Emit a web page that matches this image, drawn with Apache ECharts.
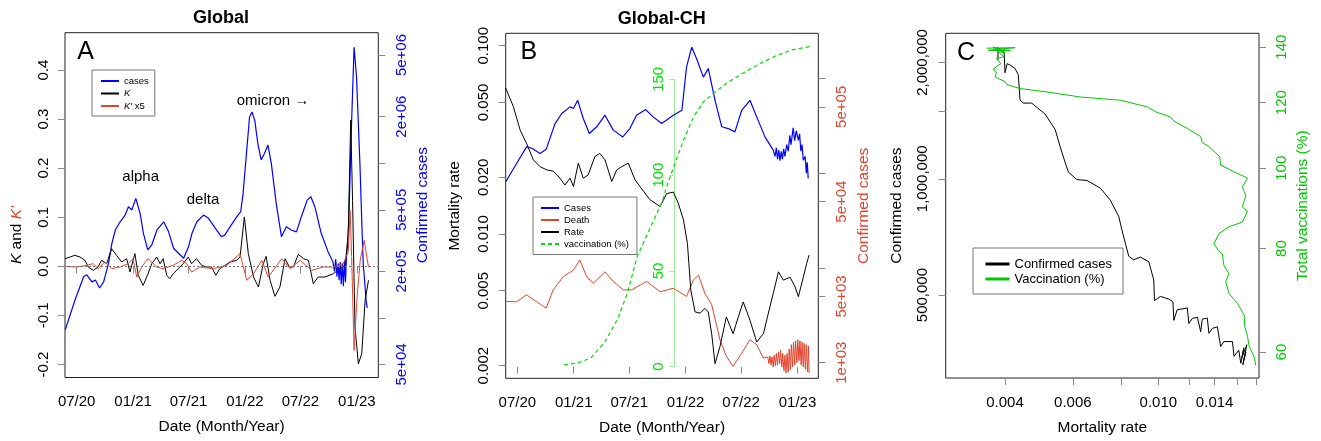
<!DOCTYPE html>
<html><head><meta charset="utf-8">
<script src="https://cdn.jsdelivr.net/npm/echarts@6/dist/echarts.min.js"></script>
<style>html,body{margin:0;padding:0;background:#fff}#c{width:1321px;height:441px}</style>
</head><body><div id="c"></div>
<script>
const FONT = "'Liberation Sans', Arial, Helvetica, sans-serif";

// ---------- shared date ticks ----------
const dateTicks = ['2020-07-01','2021-01-01','2021-07-01','2022-01-01','2022-07-01','2023-01-01'];

// ---------- Panel A (Global) ----------
const casesA = [['2020-05-25',84000],['2020-06-26',131000],['2020-07-24',185000],['2020-08-03',190000],['2020-08-20',171000],['2020-08-31',176000],['2020-09-14',156000],['2020-09-27',171000],['2020-10-13',225000],['2020-10-24',303000],['2020-11-04',370000],['2020-11-20',418000],['2020-12-06',462000],['2020-12-17',523000],['2020-12-28',498000],['2021-01-10',592000],['2021-01-24',473000],['2021-02-04',351000],['2021-02-18',275000],['2021-03-03',296000],['2021-03-20',370000],['2021-04-11',418000],['2021-04-27',360000],['2021-05-13',282000],['2021-06-04',255000],['2021-06-15',243000],['2021-07-01',288000],['2021-07-12',351000],['2021-07-28',418000],['2021-08-19',462000],['2021-09-04',440000],['2021-09-26',380000],['2021-10-16',335000],['2021-10-27',343000],['2021-11-17',398000],['2021-12-09',462000],['2021-12-18',485000],['2021-12-26',637000],['2022-01-05',1100000],['2022-01-16',1990000],['2022-01-24',2140000],['2022-02-02',1890000],['2022-02-12',1340000],['2022-02-23',1050000],['2022-03-06',1160000],['2022-03-17',1310000],['2022-03-28',997000],['2022-04-13',550000],['2022-04-30',335000],['2022-05-16',388000],['2022-06-01',370000],['2022-06-18',360000],['2022-07-04',451000],['2022-07-23',577000],['2022-08-04',607000],['2022-08-17',523000],['2022-09-07',351000],['2022-09-29',268000],['2022-10-15',231000],['2022-10-20',200000],['2022-10-24',240000],['2022-10-28',185000],['2022-11-01',225000],['2022-11-04',175000],['2022-11-08',230000],['2022-11-11',165000],['2022-11-15',225000],['2022-11-18',160000],['2022-11-22',235000],['2022-11-25',170000],['2022-11-28',250000],['2022-12-02',300000],['2022-12-06',451000],['2022-12-14',1630000],['2022-12-23',5620000],['2022-12-31',3600000],['2023-01-11',1000000],['2023-01-18',370000],['2023-01-22',220000],['2023-01-27',168000],['2023-01-31',130000],['2023-02-04',116000]];
const kA = [['2020-05-24',0.0156],['2020-06-09',0.019],['2020-06-25',0.0224],['2020-07-12',0.019],['2020-07-28',0.0122],['2020-08-08',-0.0014],['2020-08-24',-0.0082],['2020-09-09',-0.0014],['2020-09-20',0.0122],['2020-10-07',0.0054],['2020-10-23',0.036],['2020-11-08',0.0224],['2020-11-25',0.0088],['2020-12-11',0.0156],['2020-12-22',-0.0116],['2021-01-07',0.0259],['2021-01-18',-0.0184],['2021-02-03',-0.0388],['2021-02-19',-0.015],['2021-03-03',0.0054],['2021-03-19',0.019],['2021-03-30',0.0054],['2021-04-09',0.0156],['2021-04-21',-0.0184],['2021-05-01',-0.0252],['2021-05-12',-0.015],['2021-05-28',-0.0048],['2021-06-14',0.0054],['2021-06-30',0.019],['2021-07-11',0.0054],['2021-07-27',0.0156],['2021-08-13',0.002],['2021-08-29',-0.0014],['2021-09-14',-0.0014],['2021-09-28',-0.0184],['2021-10-11',-0.0048],['2021-10-28',0.002],['2021-11-13',0.0088],['2021-12-05',0.0122],['2021-12-16',0.019],['2021-12-30',0.1007],['2022-01-12',0.0259],['2022-01-29',-0.0218],['2022-02-14',-0.0422],['2022-03-02',0.0054],['2022-03-11',0.0204],['2022-03-24',-0.0286],['2022-04-09',-0.0612],['2022-04-25',-0.0422],['2022-05-12',0.0156],['2022-05-26',-0.0014],['2022-06-08',-0.0014],['2022-06-24',0.0245],['2022-07-11',0.0156],['2022-07-27',0.0122],['2022-08-12',-0.0354],['2022-08-28',-0.0218],['2022-09-19',-0.0218],['2022-10-16',-0.015],['2022-11-07',-0.0048],['2022-11-24',0.002],['2022-12-04',0.0667],['2022-12-12',0.298],['2022-12-18',0.1347],['2022-12-26',-0.1238],['2023-01-06',-0.1986],['2023-01-17',-0.1782],['2023-01-28',-0.0694],['2023-02-08',-0.0286]];
const kpA = [['2020-05-24',0],['2020-07-01',-0.0014],['2020-08-02',0.002],['2020-08-24',0.0054],['2020-09-09',-0.0048],['2020-10-01',0.0088],['2020-10-23',-0.0048],['2020-11-19',-0.0014],['2020-12-16',0.0054],['2021-01-01',0.0156],['2021-01-13',-0.0218],['2021-01-29',-0.0014],['2021-02-19',0.0156],['2021-03-19',-0.0014],['2021-04-09',-0.0048],['2021-05-12',0.002],['2021-06-09',0.0122],['2021-06-25',0.0054],['2021-07-11',-0.0116],['2021-08-07',-0.0014],['2021-09-20',-0.0048],['2021-11-03',0.002],['2021-12-16',0.0259],['2022-01-07',-0.0286],['2022-01-29',-0.015],['2022-02-25',0.0122],['2022-03-18',-0.0218],['2022-05-01',0.0156],['2022-05-28',-0.0048],['2022-06-30',0.0122],['2022-08-07',-0.0082],['2022-09-13',-0.0014],['2022-10-16',-0.0014],['2022-11-18',0.0054],['2022-12-04',0.03],['2022-12-10',0.1143],['2022-12-15',0.02],['2022-12-23',-0.1714],['2023-01-01',-0.0694],['2023-01-12',0.0122],['2023-01-25',0.0531],['2023-02-08',-0.0014]];
const kTicksA = [-0.2,-0.1,0,0.1,0.2,0.3,0.4];
const casesTicksA = [5e4,1e5,2e5,5e5,1e6,2e6,5e6];
const casesLabelsA = [5e4,2e5,5e5,2e6,5e6];

// ---------- Panel B (Global-CH) ----------
const casesB = [['2020-05-24',81000],['2020-06-29',127000],['2020-07-31',189000],['2020-08-17',183000],['2020-09-13',161000],['2020-10-03',178000],['2020-11-01',333000],['2020-11-23',425000],['2020-12-20',500000],['2020-12-31',480000],['2021-01-14',586000],['2021-02-01',377000],['2021-02-21',262000],['2021-03-17',308000],['2021-04-13',408000],['2021-05-10',284000],['2021-06-10',241000],['2021-07-03',295000],['2021-07-25',408000],['2021-08-24',468000],['2021-09-17',392000],['2021-10-15',333000],['2021-11-22',408000],['2021-12-20',460000],['2022-01-04',1310000],['2022-01-21',2130000],['2022-02-06',1610000],['2022-02-28',1030000],['2022-03-16',1270000],['2022-04-07',586000],['2022-04-29',308000],['2022-05-20',295000],['2022-06-11',272000],['2022-07-03',460000],['2022-07-30',586000],['2022-08-21',392000],['2022-09-17',241000],['2022-10-14',175000],['2022-10-20',150000],['2022-10-24',185000],['2022-10-28',140000],['2022-11-01',175000],['2022-11-05',135000],['2022-11-09',170000],['2022-11-13',140000],['2022-11-17',180000],['2022-11-21',150000],['2022-11-27',200000],['2022-12-02',170000],['2022-12-07',250000],['2022-12-11',200000],['2022-12-18',300000],['2022-12-23',220000],['2022-12-28',280000],['2023-01-04',222000],['2023-01-08',260000],['2023-01-12',170000],['2023-01-16',200000],['2023-01-20',137000],['2023-01-26',150000],['2023-01-30',100000],['2023-02-02',130000],['2023-02-05',88000]];
const deathB = [['2020-05-24',4420],['2020-06-29',4400],['2020-07-31',5200],['2020-09-02',4400],['2020-10-03',3770],['2020-10-26',5860],['2020-11-28',8100],['2020-12-31',9500],['2021-01-21',12100],['2021-02-12',8100],['2021-03-06',6900],['2021-04-13',9100],['2021-05-10',7200],['2021-06-12',5860],['2021-07-09',5860],['2021-08-27',7200],['2021-10-10',5600],['2021-11-22',6100],['2022-01-04',5000],['2022-01-27',7500],['2022-02-12',8400],['2022-03-05',5400],['2022-03-27',4100],['2022-04-23',1750],['2022-05-14',1170],['2022-06-05',915],['2022-07-03',1260],['2022-07-30',1750],['2022-08-21',1550],['2022-09-12',1120],['2022-09-26',1150],['2022-09-30',980],['2022-10-03',1180],['2022-10-07',950],['2022-10-10',1150],['2022-10-14',900],['2022-10-17',1200],['2022-10-21',930],['2022-10-24',1250],['2022-10-28',950],['2022-10-31',1300],['2022-11-04',980],['2022-11-07',1350],['2022-11-11',900],['2022-11-14',1250],['2022-11-18',820],['2022-11-21',1200],['2022-11-25',780],['2022-11-28',1250],['2022-12-02',800],['2022-12-05',1400],['2022-12-09',850],['2022-12-12',1550],['2022-12-16',900],['2022-12-19',1650],['2022-12-23',950],['2022-12-26',1700],['2022-12-30',1000],['2023-01-02',1750],['2023-01-06',1050],['2023-01-09',1700],['2023-01-13',950],['2023-01-16',1650],['2023-01-20',900],['2023-01-23',1600],['2023-01-27',850],['2023-01-30',1550],['2023-02-03',800],['2023-02-06',1500],['2023-02-08',780]];
const rateB = [['2020-05-24',0.0596],['2020-06-18',0.0475],['2020-07-10',0.0357],['2020-07-31',0.0303],['2020-08-22',0.0248],['2020-09-13',0.0228],['2020-10-05',0.0219],['2020-10-26',0.0216],['2020-11-17',0.0198],['2020-12-03',0.0182],['2020-12-20',0.0198],['2020-12-31',0.0179],['2021-01-16',0.0238],['2021-02-01',0.0198],['2021-02-17',0.0206],['2021-03-11',0.0258],['2021-03-27',0.0268],['2021-04-13',0.0248],['2021-05-05',0.019],['2021-05-21',0.0219],['2021-06-07',0.0228],['2021-06-28',0.0238],['2021-07-20',0.0194],['2021-08-05',0.0179],['2021-09-07',0.0152],['2021-10-10',0.014],['2021-10-31',0.0164],['2021-11-22',0.0167],['2021-12-08',0.0146],['2021-12-25',0.0119],['2022-01-07',0.0089],['2022-01-18',0.00503],['2022-02-01',0.00386],['2022-02-17',0.0038],['2022-03-05',0.00403],['2022-03-16',0.00386],['2022-03-27',0.00296],['2022-04-07',0.00205],['2022-04-23',0.00252],['2022-05-14',0.00363],['2022-06-05',0.00296],['2022-06-22',0.00363],['2022-07-08',0.00436],['2022-07-30',0.00349],['2022-08-21',0.00267],['2022-09-12',0.00296],['2022-09-28',0.0038],['2022-10-14',0.00484],['2022-10-31',0.0063],['2022-11-16',0.00569],['2022-12-08',0.0059],['2022-12-24',0.00525],['2023-01-04',0.00465],['2023-01-20',0.0059],['2023-01-31',0.00698],['2023-02-08',0.00773]];
const vaxB = [['2020-11-30',1.0],['2021-01-13',1.9],['2021-02-25',4.5],['2021-04-10',12.3],['2021-05-23',24.5],['2021-06-25',38.4],['2021-07-27',57.4],['2021-09-09',73],['2021-10-17',86.1],['2021-10-31',93.9],['2021-11-27',106],['2021-12-25',118.2],['2022-01-27',130.4],['2022-02-28',138.2],['2022-04-01',142.6],['2022-05-14',147.8],['2022-07-08',153.3],['2022-09-01',158.2],['2022-10-26',162.5],['2022-12-18',165.5],['2023-02-17',167.3]];
const rateTicksB = [0.002,0.005,0.01,0.02,0.05,0.1];
const casesTicksB = [1e3,5e3,1e4,5e4,1e5,5e5,1e6];
const casesLabelsB = [1e3,5e3,5e4,5e5];
const vaxTicksB = [0,50,100,150];

// ---------- Panel C ----------
const casesC = [[0.003835,2030000],[0.003835,2185000],[0.00393,2133000],[0.00398,2120000],[0.0040,1882000],[0.00405,1986000],[0.00412,1970000],[0.004246,1930000],[0.004331,1860000],[0.004375,1600000],[0.004463,1570000],[0.004692,1570000],[0.005084,1470000],[0.0054,1340000],[0.005562,1210000],[0.005733,1100000],[0.005846,1040000],[0.006145,995000],[0.006529,990000],[0.007069,946000],[0.007505,880000],[0.007889,800000],[0.008091,720000],[0.00838,630000],[0.00863,617000],[0.008987,627000],[0.009445,610000],[0.009732,547000],[0.009772,484000],[0.01013,496000],[0.01065,488000],[0.01091,481000],[0.01097,430000],[0.01119,458000],[0.01189,463000],[0.0120,422000],[0.01225,435000],[0.01263,438000],[0.01288,402000],[0.0130,433000],[0.0134,436000],[0.01353,398000],[0.01381,410000],[0.01423,414000],[0.01451,368000],[0.0148,379000],[0.01557,379000],[0.01572,347000],[0.01617,360000],[0.01637,333000],[0.01667,365000],[0.01647,344000],[0.01697,372000],[0.01657,330000],[0.01687,356000],[0.01667,340000]];
const vaxC = [[0.00358,139.6],[0.00425,139.8],[0.00362,138.8],[0.00413,138.6],[0.00372,140.0],[0.0040,138.0],[0.00384,138.2],[0.00398,136.3],[0.0038,135.8],[0.0039,133.7],[0.00372,131.7],[0.0038,130.6],[0.00377,128.9],[0.0040,127.2],[0.00404,126.2],[0.00437,124.8],[0.00514,123.6],[0.00627,121.9],[0.00797,120.8],[0.00935,118.6],[0.00983,117.0],[0.01075,115.3],[0.01097,114.0],[0.01189,111.7],[0.01288,109.2],[0.0130,107.4],[0.01353,106.2],[0.01443,103.3],[0.01451,100.9],[0.01572,99.0],[0.01704,97.3],[0.01652,94.9],[0.01687,92.7],[0.01652,89.8],[0.01704,88.7],[0.01652,86.1],[0.01526,85.0],[0.01437,83.4],[0.01394,81.1],[0.0143,79.6],[0.01466,78.8],[0.0148,76.3],[0.01526,74.6],[0.01496,73.0],[0.01526,70.6],[0.01604,68.7],[0.0167,66.5],[0.01676,64.4],[0.01704,62.7],[0.0172,61.0],[0.01773,59.2],[0.01791,57.8]];
const rateTicksC = [0.004,0.006,0.008,0.010,0.012,0.014,0.016,0.018];
const rateLabelsC = [0.004,0.006,0.010,0.014];
const casesTicksC = [5e5,1e6,1.5e6,2e6];
const casesLabelsC = [5e5,1e6,2e6];
const vaxTicksC = [60,80,100,120,140];

// ---------- colours ----------
const BLUE = '#0000ff', RED = '#e2432c', BLACK = '#000000', GREEN = '#00e000', GREEN_C = '#00c800';

// ---------- helpers ----------
const ts = d => Date.parse(d);
const dated = arr => arr.map(([d, v]) => [ts(d), v]);
const fmtMY = v => { const d = new Date(v); return String(d.getUTCMonth() + 1).padStart(2, '0') + '/' + String(d.getUTCFullYear() % 100).padStart(2, '0'); };
const fmtE = v => { const [m, e] = Number(v).toExponential(0).split('e'); return m + 'e' + e[0] + e.slice(1).padStart(2, '0'); };
const fmtComma = v => Math.round(v).toLocaleString('en-US');

function axis(o) {
  return {
    gridIndex: o.grid, type: o.type, position: o.position, logBase: 10,
    min: o.min, max: o.max,
    axisLine: {show: false},
    axisTick: {show: true, length: 7, customValues: o.ticks, lineStyle: {color: '#888', width: 1}},
    axisLabel: {show: true, customValues: o.labels || o.ticks, formatter: o.fmt, color: o.color || '#000',
      fontSize: 15, fontFamily: FONT, margin: o.margin, rotate: o.rotate || 0},
    splitLine: {show: false},
    name: o.name || '', nameLocation: 'middle', nameGap: o.nameGap, nameRotate: o.nameRotate,
    nameTextStyle: {color: o.nameColor || '#000', fontSize: 15.5, fontFamily: FONT}
  };
}
const lineS = (name, xi, yi, data, color, width, extra) => Object.assign({
  type: 'line', name, xAxisIndex: xi, yAxisIndex: yi, data, symbol: 'none', showSymbol: false,
  lineStyle: {color, width}, itemStyle: {color}, emphasis: {disabled: true}, silent: true
}, extra || {});

const dTicks = dateTicks.map(ts);
const legendBase = {orient: 'vertical', selectedMode: false, borderColor: '#777', borderWidth: 1,
  backgroundColor: '#fff', itemStyle: {opacity: 0, borderWidth: 0}};

const option = {
  animation: false,
  textStyle: {fontFamily: FONT},
  grid: [
    {left: 65, top: 32.7, width: 313.3, height: 344.8, show: true, borderColor: '#222', borderWidth: 1},
    {left: 505.7, top: 33.3, width: 312.6, height: 345, show: true, borderColor: '#222', borderWidth: 1},
    {left: 945.7, top: 33.3, width: 313.3, height: 345, show: true, borderColor: '#222', borderWidth: 1},
    {left: 674.3, top: 79.3, width: 1, height: 287.4, show: false}
  ],
  xAxis: [
    axis({grid: 0, type: 'value', min: ts('2020-05-24'), max: ts('2023-03-12'), ticks: dTicks, fmt: fmtMY, margin: 17,
      name: 'Date (Month/Year)', nameGap: 41}),
    axis({grid: 1, type: 'value', min: ts('2020-05-24'), max: ts('2023-03-10'), ticks: dTicks, fmt: fmtMY, margin: 17,
      name: 'Date (Month/Year)', nameGap: 41}),
    axis({grid: 2, type: 'log', min: 0.002806, max: 0.01825, ticks: rateTicksC, labels: rateLabelsC,
      fmt: v => Number(v).toFixed(3), margin: 17, name: 'Mortality rate', nameGap: 42}),
    {gridIndex: 3, type: 'value', show: false, min: 0, max: 1}
  ],
  yAxis: [
    axis({grid: 0, type: 'value', position: 'left', min: -0.2265, max: 0.476, ticks: kTicksA,
      fmt: v => Number(v).toFixed(1), margin: 14, rotate: 90}),
    axis({grid: 0, type: 'log', position: 'right', min: 41200, max: 6970000, ticks: casesTicksA, labels: casesLabelsA,
      fmt: fmtE, color: BLUE, margin: 16, rotate: 90, name: 'Confirmed cases', nameGap: 36, nameRotate: 90, nameColor: BLUE}),
    axis({grid: 1, type: 'log', position: 'left', min: 0.001714, max: 0.1164, ticks: rateTicksB,
      fmt: v => Number(v).toFixed(3), margin: 14, rotate: 90, name: 'Mortality rate', nameGap: 42.5, nameRotate: 90}),
    axis({grid: 1, type: 'log', position: 'right', min: 684.6, max: 2984000, ticks: casesTicksB, labels: casesLabelsB,
      fmt: fmtE, color: RED, margin: 16.5, rotate: 90, name: 'Confirmed cases', nameGap: 37, nameRotate: 90, nameColor: RED}),
    {gridIndex: 1, type: 'value', min: -6.05, max: 174, show: false},
    axis({grid: 2, type: 'log', position: 'left', min: 305000, max: 2380000, ticks: casesTicksC, labels: casesLabelsC,
      fmt: fmtComma, margin: 15.5, rotate: 90, name: 'Confirmed cases', nameGap: 40.5, nameRotate: 90}),
    axis({grid: 2, type: 'log', position: 'right', min: 55.83, max: 145.5, ticks: vaxTicksC,
      fmt: v => String(Math.round(v)), color: GREEN_C, margin: 15.5, rotate: 90,
      name: 'Total vaccinations (%)', nameGap: 36, nameRotate: 90, nameColor: GREEN_C}),
    {gridIndex: 3, type: 'value', position: 'left', min: 0, max: 150, interval: 50,
      axisLine: {show: true, lineStyle: {color: '#99ee99', width: 1}},
      axisTick: {show: true, length: 5, lineStyle: {color: '#99ee99'}},
      axisLabel: {show: true, rotate: 90, color: GREEN, fontSize: 15, fontFamily: FONT, margin: 8},
      splitLine: {show: false}}
  ],
  legend: [
    Object.assign({}, legendBase, {data: ['cases', 'K', "K' x5"], left: 92, top: 70,
      itemWidth: 18, itemHeight: 9, itemGap: 2.5, padding: [6, 6, 5, 8],
      formatter: n => n === 'K' ? '{i|K}' : (n === "K' x5" ? "{i|K'} x5" : n),
      textStyle: {fontSize: 9.5, color: '#000', fontFamily: FONT, rich: {i: {fontStyle: 'italic', fontSize: 9.5, fontFamily: FONT}}}}),
    Object.assign({}, legendBase, {data: ['Cases', 'Death', 'Rate', 'vaccination (%)'], left: 533, top: 197,
      itemWidth: 18, itemHeight: 9, itemGap: 2, padding: [6, 8, 5.5, 7],
      textStyle: {fontSize: 9.5, color: '#000', fontFamily: FONT}}),
    Object.assign({}, legendBase, {data: ['Confirmed cases', 'Vaccination (%)'], left: 973, top: 248,
      itemWidth: 24, itemHeight: 13, itemGap: 2, padding: [9.5, 11, 8.5, 11], lineStyle: {width: 3},
      textStyle: {fontSize: 13, color: '#000', fontFamily: FONT}})
  ],
  series: [
    lineS('cases', 0, 1, dated(casesA), BLUE, 1.2),
    lineS('K', 0, 0, dated(kA), BLACK, 1, {
      markLine: {silent: true, symbol: ['none', 'none'], label: {show: false},
        lineStyle: {color: '#777', type: [2, 2], width: 1}, data: [{yAxis: 0}]}}),
    lineS("K' x5", 0, 0, dated(kpA), RED, 1),
    lineS('Cases', 1, 3, dated(casesB), BLUE, 1.2),
    lineS('Death', 1, 3, dated(deathB), RED, 1),
    lineS('Rate', 1, 2, dated(rateB), BLACK, 1),
    lineS('vaccination (%)', 1, 4, dated(vaxB), GREEN, 1.2, {lineStyle: {color: GREEN, width: 1.2, type: [4, 3]}}),
    lineS('Confirmed cases', 2, 5, casesC, BLACK, 1),
    lineS('Vaccination (%)', 2, 6, vaxC, GREEN_C, 1)
  ],
  graphic: [
    {type: 'text', x: 221, y: 18.5, silent: true, style: {text: 'Global', fontSize: 18, fontWeight: 'bold', fontFamily: FONT, fill: '#000', textAlign: 'center', textVerticalAlign: 'middle'}},
    {type: 'text', x: 661.7, y: 19, silent: true, style: {text: 'Global-CH', fontSize: 18, fontWeight: 'bold', fontFamily: FONT, fill: '#000', textAlign: 'center', textVerticalAlign: 'middle'}},
    {type: 'text', x: 85.7, y: 52.5, silent: true, style: {text: 'A', fontSize: 25, fontFamily: FONT, fill: '#000', textAlign: 'center', textVerticalAlign: 'middle'}},
    {type: 'text', x: 528.8, y: 52.5, silent: true, style: {text: 'B', fontSize: 25, fontFamily: FONT, fill: '#000', textAlign: 'center', textVerticalAlign: 'middle'}},
    {type: 'text', x: 966, y: 53, silent: true, style: {text: 'C', fontSize: 25, fontFamily: FONT, fill: '#000', textAlign: 'center', textVerticalAlign: 'middle'}},
    {type: 'text', x: 140.7, y: 177, silent: true, style: {text: 'alpha', fontSize: 15, fontFamily: FONT, fill: '#000', textAlign: 'center', textVerticalAlign: 'middle'}},
    {type: 'text', x: 203, y: 200, silent: true, style: {text: 'delta', fontSize: 15, fontFamily: FONT, fill: '#000', textAlign: 'center', textVerticalAlign: 'middle'}},
    {type: 'text', x: 273, y: 100.5, silent: true, style: {text: 'omicron \u2192', fontSize: 15, fontFamily: FONT, fill: '#000', textAlign: 'center', textVerticalAlign: 'middle'}},
    {type: 'text', x: 17, y: 235, rotation: Math.PI / 2, silent: true, style: {
      text: "{k|K} and {kp|K'}", fontSize: 15.5, fontFamily: FONT, fill: '#000', textAlign: 'center', textVerticalAlign: 'middle',
      rich: {k: {fontStyle: 'italic', fontSize: 15.5, fontFamily: FONT, fill: '#000'},
             kp: {fontStyle: 'italic', fontSize: 15.5, fontFamily: FONT, fill: RED}}}}
  ]
};

const chart = echarts.init(document.getElementById('c'), null, {renderer: 'canvas'});
chart.setOption(option);
</script></body></html>
